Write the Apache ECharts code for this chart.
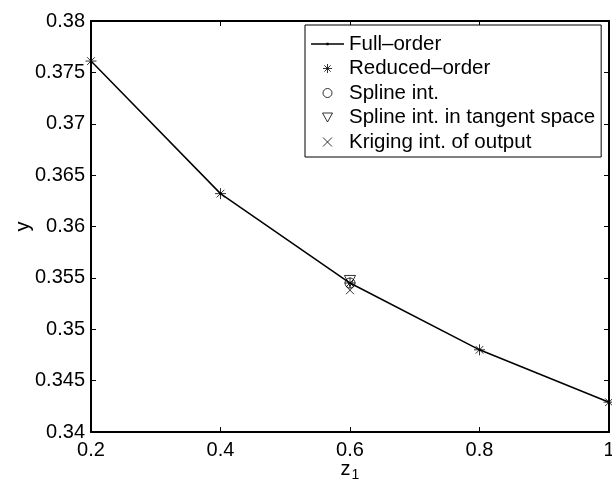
<!DOCTYPE html>
<html>
<head>
<meta charset="utf-8">
<script src="https://cdn.jsdelivr.net/npm/echarts@6/dist/echarts.min.js"></script>
<style>
  html, body { margin: 0; padding: 0; background: #fff; }
  #chart { width: 612px; height: 480px; }
</style>
</head>
<body>
<div id="chart"></div>
<script>
// data
const zValues = [0.2, 0.4, 0.6, 0.8, 1.0];
const fullOrder = [0.3761, 0.3632, 0.3545, 0.3480, 0.3429];
const reducedOrder = [0.3761, 0.3632, 0.3545, 0.3480, 0.3429];
const interpZ = [0.6];
const splineY = [0.3545];
const tangentY = [0.3547];
const krigingY = [0.3538];
const xTicks = [0.2, 0.4, 0.6, 0.8, 1];
const legendNames = ["Full\u2013order", "Reduced\u2013order", "Spline int.", "Spline int. in tangent space", "Kriging int. of output"];

const FONT = "Liberation Sans";
const star = "path://M0,-10L0,10M-10,0L10,0M-7,-7L7,7M-7,7L7,-7";
const cross = "path://M-10,-10L10,10M-10,10L10,-10";
const triDown = "path://M-10,-8L10,-8L0,10Z";
// legend icon for the full-order line: thin bar with a small dot in the middle
const lineDot = "path://M0,-0.7L36,-0.7L36,0.7L0,0.7ZM16.8,-1.4L19.2,-1.4L19.2,1.4L16.8,1.4Z";

const pairs = (xs, ys) => xs.map((x, i) => [x, ys[i]]);

const chart = echarts.init(document.getElementById("chart"));

const axisCommon = {
  axisLine: { show: true, onZero: false, lineStyle: { color: "#000", width: 2 } },
  axisTick: { show: true, inside: true, length: 5, lineStyle: { color: "#000", width: 1 } },
  splitLine: { show: false }
};

const hollow = { color: "transparent", borderColor: "#000", borderWidth: 1 };

chart.setOption({
  animation: false,
  textStyle: { fontFamily: FONT },
  grid: { left: 91, right: 3, top: 21, bottom: 48, outerBoundsMode: "none", containLabel: false },
  xAxis: [
    Object.assign({
      type: "value", min: 0.2, max: 1, interval: 0.2, position: "bottom",
      name: "{a|z}{b|1}", nameLocation: "middle", nameGap: 24, nameMoveOverlap: false,
      nameTextStyle: {
        rich: {
          a: { fontSize: 20, fontFamily: FONT, color: "#000" },
          b: { fontSize: 14, fontFamily: FONT, color: "#000", padding: [12, 0, 0, 1] }
        }
      },
      axisLabel: {
        fontSize: 20, color: "#000", margin: 8, fontFamily: FONT,
        formatter: v => xTicks.includes(+v.toFixed(1)) ? String(+v.toFixed(1)) : ""
      }
    }, axisCommon),
    Object.assign({
      type: "value", min: 0.2, max: 1, interval: 0.2, position: "top",
      axisLabel: { show: false }
    }, axisCommon)
  ],
  yAxis: [
    Object.assign({
      type: "value", min: 0.34, max: 0.38, interval: 0.005, position: "left",
      name: "y", nameLocation: "middle", nameGap: 58, nameMoveOverlap: false,
      nameTextStyle: { fontSize: 20, color: "#000", fontFamily: FONT },
      axisLabel: {
        fontSize: 20, color: "#000", margin: 6, fontFamily: FONT,
        formatter: v => String(+v.toFixed(3))
      }
    }, axisCommon),
    Object.assign({
      type: "value", min: 0.34, max: 0.38, interval: 0.005, position: "right",
      axisLabel: { show: false }
    }, axisCommon)
  ],
  legend: {
    orient: "vertical",
    left: 305, top: 25,
    backgroundColor: "#fff",
    borderColor: "#000", borderWidth: 1,
    padding: [8, 6, 4, 6],
    itemWidth: 33, itemHeight: 9, itemGap: 2.5,
    textStyle: { fontSize: 20.5, color: "#000", fontFamily: FONT, lineHeight: 22 },
    data: legendNames.map((name, i) => i === 0
      ? { name: name, icon: lineDot, itemStyle: { color: "#000", borderWidth: 0 } }
      : { name: name, itemStyle: hollow })
  },
  series: [
    {
      name: legendNames[0], type: "line",
      data: pairs(zValues, fullOrder),
      symbol: "circle", symbolSize: 2.5, showSymbol: true,
      lineStyle: { color: "#000", width: 1.5 },
      itemStyle: { color: "#000" }, z: 2
    },
    {
      name: legendNames[1], type: "scatter",
      data: pairs(zValues, reducedOrder),
      symbol: star, symbolSize: 11,
      itemStyle: hollow, z: 3
    },
    {
      name: legendNames[2], type: "scatter",
      data: pairs(interpZ, splineY),
      symbol: "circle", symbolSize: 10,
      itemStyle: hollow, z: 3
    },
    {
      name: legendNames[3], type: "scatter",
      data: pairs(interpZ, tangentY),
      symbol: triDown, symbolSize: 11,
      itemStyle: hollow, z: 3
    },
    {
      name: legendNames[4], type: "scatter",
      data: pairs(interpZ, krigingY),
      symbol: cross, symbolSize: 8,
      itemStyle: hollow, z: 3
    }
  ]
});
</script>
</body>
</html>
